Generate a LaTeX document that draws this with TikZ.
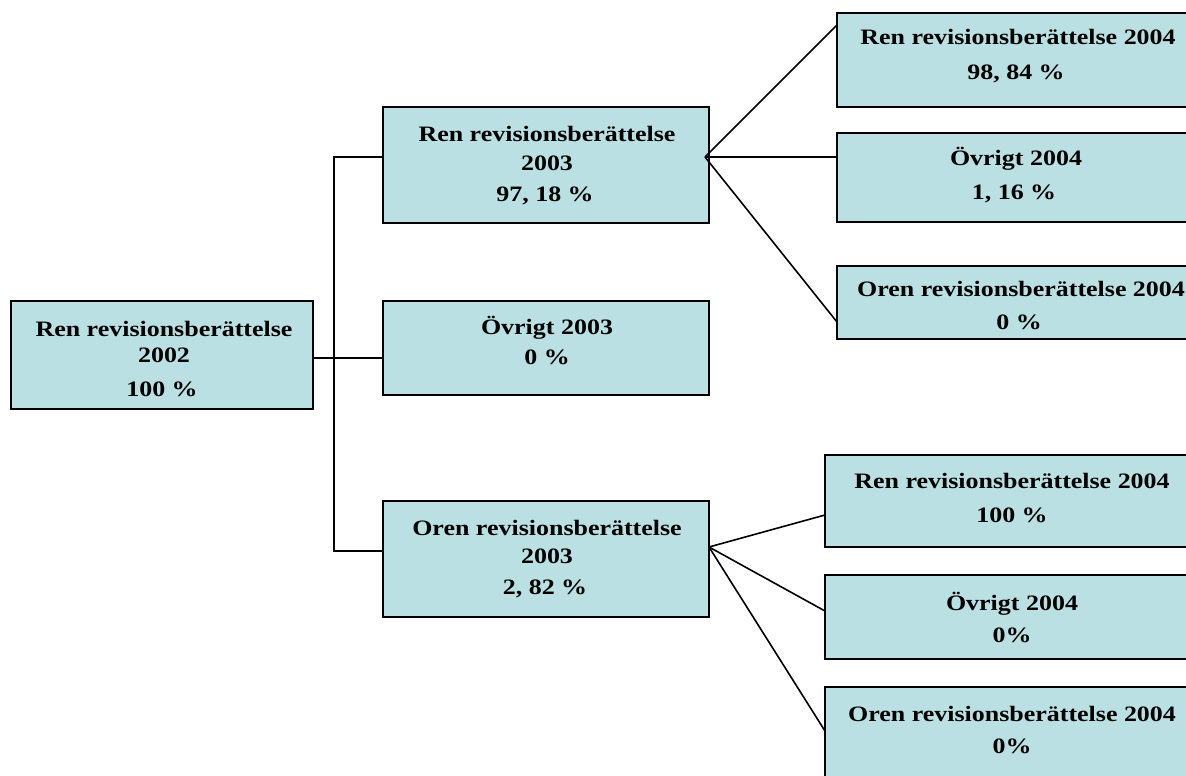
\documentclass[tikz,border=0pt]{standalone}
\usepackage{fontspec}
\setmainfont{Liberation Serif}[FakeStretch=1.18]
\definecolor{boxfill}{RGB}{187,224,227}
\begin{document}
\begin{tikzpicture}[x=1pt,y=-1pt,
  box/.style={draw=black,fill=boxfill,line width=1.9pt,inner sep=0pt,outer sep=0pt,anchor=north west},
  txt/.style={inner sep=0pt,font=\fontsize{22}{26}\selectfont\bfseries,text height=14.6pt,text depth=0pt},
  conn/.style={draw=black,line width=1.6pt}]
\useasboundingbox (0,0) rectangle (1186,776);
% boxes
\node[box,minimum width=302pt,minimum height=108pt] (root) at (11,301) {};
\node[box,minimum width=326pt,minimum height=116pt] (A) at (383,107) {};
\node[box,minimum width=326pt,minimum height=94pt] (B) at (383,301) {};
\node[box,minimum width=326pt,minimum height=116pt] (C) at (383,501) {};
\node[box,minimum width=380pt,minimum height=94pt] (A1) at (837,13) {};
\node[box,minimum width=380pt,minimum height=89pt] (A2) at (837,133) {};
\node[box,minimum width=380pt,minimum height=73pt] (A3) at (837,266) {};
\node[box,minimum width=390pt,minimum height=92pt] (C1) at (825,455) {};
\node[box,minimum width=390pt,minimum height=84pt] (C2) at (825,575) {};
\node[box,minimum width=390pt,minimum height=110pt] (C3) at (825,687) {};
% texts
\node[txt] (rootT1) at (164,329) {Ren revisionsberättelse};
\node[txt] (rootT2) at (164,355) {2002};
\node[txt] (rootT3) at (162,389) {100 \%};
\node[txt] (AT1) at (547,134) {Ren revisionsberättelse};
\node[txt] (AT2) at (547,163) {2003};
\node[txt] (AT3) at (545,194) {97, 18 \%};
\node[txt] (BT1) at (547,327) {Övrigt 2003};
\node[txt] (BT2) at (547,357) {0 \%};
\node[txt] (CT1) at (547,528) {Oren revisionsberättelse};
\node[txt] (CT2) at (547,556) {2003};
\node[txt] (CT3) at (545,587) {2, 82 \%};
\node[txt] (A1T1) at (1018,37) {Ren revisionsberättelse 2004};
\node[txt] (A1T2) at (1016,72) {98, 84 \%};
\node[txt] (A2T1) at (1016,158) {Övrigt 2004};
\node[txt] (A2T2) at (1014,192) {1, 16 \%};
\node[txt] (A3T1) at (1021,289) {Oren revisionsberättelse 2004};
\node[txt] (A3T2) at (1019,322) {0 \%};
\node[txt] (C1T1) at (1012,481) {Ren revisionsberättelse 2004};
\node[txt] (C1T2) at (1012,515) {100 \%};
\node[txt] (C2T1) at (1012,603) {Övrigt 2004};
\node[txt] (C2T2) at (1012,635) {0\%};
\node[txt] (C3T1) at (1012,714) {Oren revisionsberättelse 2004};
\node[txt] (C3T2) at (1012,746) {0\%};
% connectors
\draw[conn] ([yshift=-57pt]root.north east) -- ([yshift=-57pt]B.north west);
\draw[conn] ([yshift=-50pt]A.north west) -- ++(-49,0) |- ([yshift=-50pt]C.north west);
\coordinate (Afork) at ([xshift=-4pt,yshift=-50pt]A.north east);
\coordinate (Cfork) at ([yshift=-46pt]C.north east);
\draw[conn] (Afork) -- ([yshift=-12pt]A1.north west);
\draw[conn] (Afork) -- ([yshift=-24pt]A2.north west);
\draw[conn] (Afork) -- ([yshift=-56pt]A3.north west);
\draw[conn] (Cfork) -- ([yshift=-60pt]C1.north west);
\draw[conn] (Cfork) -- ([yshift=-36pt]C2.north west);
\draw[conn] (Cfork) -- ([yshift=-44pt]C3.north west);
\end{tikzpicture}
\end{document}
